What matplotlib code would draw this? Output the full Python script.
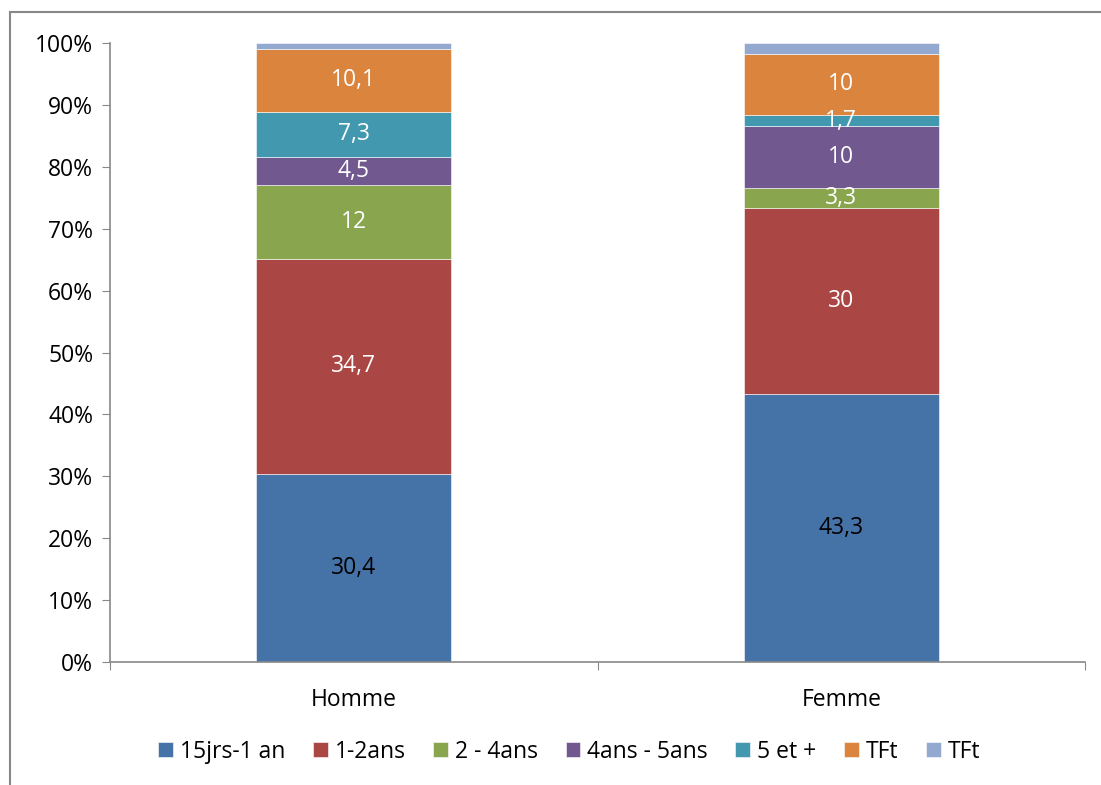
import matplotlib
matplotlib.use("Agg")
import matplotlib.pyplot as plt
from matplotlib.lines import Line2D
from matplotlib.ticker import PercentFormatter
import numpy as np

plt.rcParams['font.family'] = ['Open Sans', 'DejaVu Sans']

# Donnees du graphique
categories = ['Homme', 'Femme']
series = ['15jrs-1 an', '1-2ans', '2 - 4ans', '4ans - 5ans', '5 et +', 'TFt', 'TFt']
v_15jrs = [30.4, 43.3]
v_1_2ans = [34.7, 30.0]
v_2_4ans = [12.0, 3.3]
v_4_5ans = [4.5, 10.0]
v_5plus = [7.3, 1.7]
v_tft = [10.1, 10.0]
v_tft2 = [1.0, 1.7]
valeurs = [v_15jrs, v_1_2ans, v_2_4ans, v_4_5ans, v_5plus, v_tft, v_tft2]

couleurs = ['#4572A7', '#AA4643', '#89A54E', '#71588F', '#4198AF', '#DB843D', '#93A9CF']
couleurs_texte = ['black', 'white', 'white', 'white', 'white', 'white', None]

taille = 16.5

fig = plt.figure(figsize=(11.01, 7.85), dpi=100)
ax = fig.add_axes([110 / 1101, 1 - 662 / 785, 975 / 1101, 619 / 785])

x = np.arange(len(categories))
bas = np.zeros(len(categories))
for nom, vals, coul, ctxt in zip(series, valeurs, couleurs, couleurs_texte):
    vals = np.array(vals)
    ax.bar(x, vals, 0.4, bottom=bas, color=coul, label=nom,
           edgecolor='white', linewidth=0.4)
    if ctxt is not None:
        for xi, b, v in zip(x, bas, vals):
            ax.text(xi, b + v / 2, f"{v:g}".replace('.', ','), ha='center', va='center',
                    color=ctxt, fontsize=taille)
    bas += vals

ax.set_xlim(-0.5, 1.5)
ax.set_ylim(0, 100)
ax.set_yticks(np.arange(0, 101, 10))
ax.yaxis.set_major_formatter(PercentFormatter(decimals=0))
ax.set_xticks([-0.5, 0.5, 1.5])
ax.set_xticklabels([])
ax.set_xticks(x, minor=True)
ax.set_xticklabels(categories, minor=True)
ax.tick_params(axis='x', which='minor', length=0, pad=19, labelsize=taille)
ax.tick_params(axis='x', which='major', length=6, color='#888888', direction='out')
ax.tick_params(axis='y', length=6, color='#888888', labelsize=taille, pad=6)
for s in ['top', 'right']:
    ax.spines[s].set_visible(False)
for s in ['left', 'bottom']:
    ax.spines[s].set_color('#888888')
    ax.spines[s].set_linewidth(1.2)

ax.legend(loc='center', bbox_to_anchor=(0.471, -0.145), ncol=7, frameon=False,
          fontsize=taille, handlelength=0.65, handleheight=0.65, handletextpad=0.3,
          columnspacing=1.2)

# Cadre du graphique
fig.add_artist(Line2D([10 / 1101, 10 / 1101], [0, 1 - 12 / 785], color='#888888', lw=1.5))
fig.add_artist(Line2D([10 / 1101, 1], [1 - 12 / 785, 1 - 12 / 785], color='#888888', lw=1.5))

fig.savefig('out.png', dpi=100)
